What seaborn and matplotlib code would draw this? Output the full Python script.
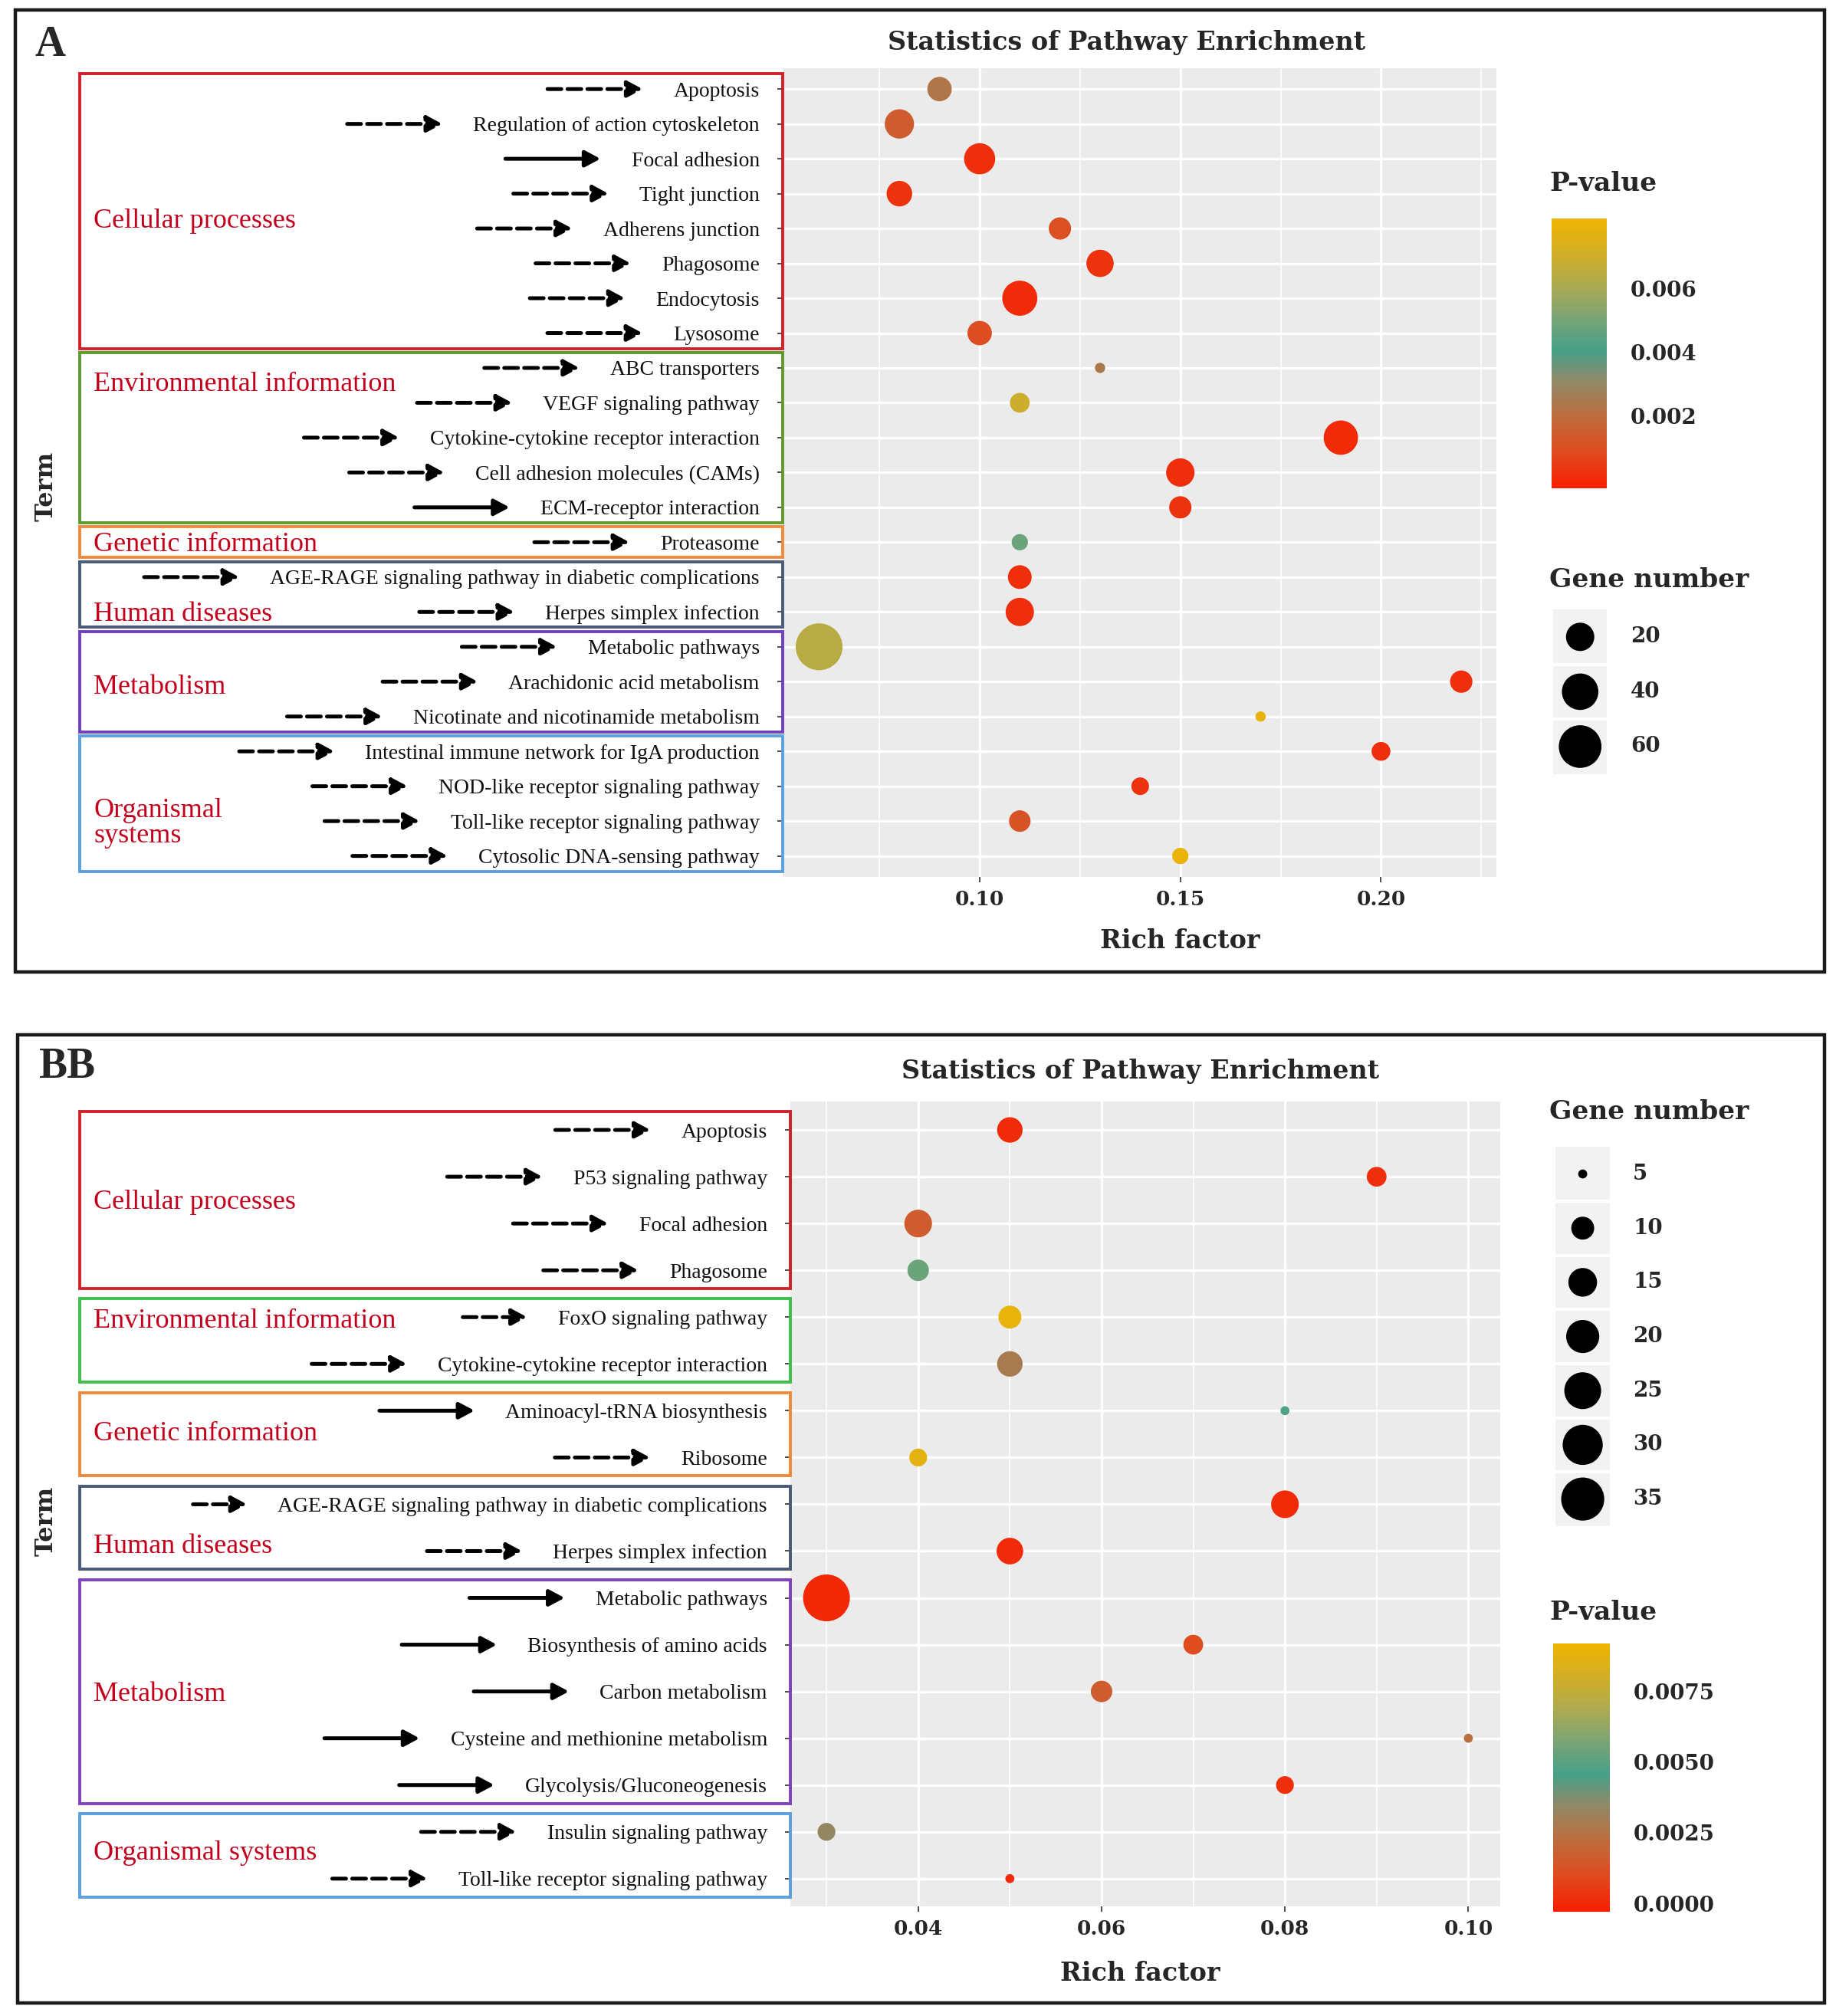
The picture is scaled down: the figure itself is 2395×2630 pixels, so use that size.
import numpy as np
import pandas as pd
import matplotlib
matplotlib.use("Agg")
import matplotlib.pyplot as plt
import seaborn as sns
from matplotlib import transforms
from matplotlib.cm import ScalarMappable
from matplotlib.colors import LinearSegmentedColormap, Normalize
from matplotlib.patches import Rectangle, FancyArrowPatch

# ---------------- panel A data ----------------
terms_a = ["Apoptosis", "Regulation of action cytoskeleton", "Focal adhesion", "Tight junction",
           "Adherens junction", "Phagosome", "Endocytosis", "Lysosome",
           "ABC transporters", "VEGF signaling pathway", "Cytokine-cytokine receptor interaction",
           "Cell adhesion molecules (CAMs)", "ECM-receptor interaction",
           "Proteasome",
           "AGE-RAGE signaling pathway in diabetic complications", "Herpes simplex infection",
           "Metabolic pathways", "Arachidonic acid metabolism", "Nicotinate and nicotinamide metabolism",
           "Intestinal immune network for IgA production", "NOD-like receptor signaling pathway",
           "Toll-like receptor signaling pathway", "Cytosolic DNA-sensing pathway"]
rich_a = [0.09, 0.08, 0.10, 0.08, 0.12, 0.13, 0.11, 0.10,
          0.13, 0.11, 0.19, 0.15, 0.15,
          0.11,
          0.11, 0.11,
          0.06, 0.22, 0.17,
          0.20, 0.14, 0.11, 0.15]
genes_a = [13, 22, 26, 15, 10, 18, 36, 13,
           2, 7, 34, 20, 10,
           4,
           12, 20,
           76, 10, 2,
           6, 5, 9, 4]
pval_a = [0.0023, 0.0014, 0.0001, 0.0002, 0.0010, 0.0002, 0.00005, 0.0009,
          0.0024, 0.0070, 0.00001, 0.0001, 0.0002,
          0.0048,
          0.0001, 0.0001,
          0.0064, 0.0001, 0.0079,
          0.0001, 0.0002, 0.0011, 0.0080]
solid_a = ["Focal adhesion", "ECM-receptor interaction"]
groups_a = ["Cellular processes", "Environmental information", "Genetic information",
            "Human diseases", "Metabolism", "Organismal\nsystems"]
group_sizes_a = [8, 5, 1, 2, 3, 4]

# ---------------- panel B data ----------------
terms_b = ["Apoptosis", "P53 signaling pathway", "Focal adhesion", "Phagosome",
           "FoxO signaling pathway", "Cytokine-cytokine receptor interaction",
           "Aminoacyl-tRNA biosynthesis", "Ribosome",
           "AGE-RAGE signaling pathway in diabetic complications", "Herpes simplex infection",
           "Metabolic pathways", "Biosynthesis of amino acids", "Carbon metabolism",
           "Cysteine and methionine metabolism", "Glycolysis/Gluconeogenesis",
           "Insulin signaling pathway", "Toll-like receptor signaling pathway"]
rich_b = [0.05, 0.09, 0.04, 0.04,
          0.05, 0.05,
          0.08, 0.04,
          0.08, 0.05,
          0.03, 0.07, 0.06, 0.10, 0.08,
          0.03, 0.05]
genes_b = [12, 8, 14, 9,
           10, 12,
           5, 7,
           14, 13,
           42, 8, 9, 5, 7,
           7, 5]
pval_b = [0.0001, 0.0002, 0.0016, 0.0054,
          0.0089, 0.0028,
          0.0048, 0.0087,
          0.00005, 0.0001,
          0.00001, 0.0010, 0.0016, 0.0023, 0.0002,
          0.0033, 0.0001]
solid_b = ["Aminoacyl-tRNA biosynthesis", "Metabolic pathways", "Biosynthesis of amino acids",
           "Carbon metabolism", "Cysteine and methionine metabolism", "Glycolysis/Gluconeogenesis"]
groups_b = ["Cellular processes", "Environmental information", "Genetic information",
            "Human diseases", "Metabolism", "Organismal systems"]
group_sizes_b = [4, 2, 2, 2, 5, 2]

legend_genes_a = [20, 40, 60]
legend_genes_b = [5, 10, 15, 20, 25, 30, 35]
cbar_ticks_a = [0.002, 0.004, 0.006]
cbar_ticks_b = [0.0, 0.0025, 0.005, 0.0075]

sns.set_style("darkgrid")
plt.rcParams["font.family"] = ["DejaVu Serif"]

fig = plt.figure(figsize=(2395 / 200, 2630 / 200), dpi=200)
# red -> teal -> gold, with the warm brown middle that the original gradient shows
cmap = LinearSegmentedColormap.from_list("pv", [
    (0.00, "#F81E00"), (0.13, "#E04A1E"), (0.27, "#BC6E3E"), (0.40, "#8E8A68"),
    (0.51, "#45A088"), (0.62, "#74A478"), (0.74, "#A8AA55"), (0.87, "#D0AE28"),
    (1.00, "#F0B400")])


# positions were measured on a 1428 x 1568 preview of the target
def fx(px):
    return px / 1428


def fy(py):
    return 1 - py / 1568


def dot_area(n, nmin, nmax, dmin, dmax):
    # ggplot-like area palette: diameter grows with sqrt of the rescaled value
    t = np.clip((np.asarray(n, float) - nmin) / (nmax - nmin), 0, 1)
    return (dmin + (dmax - dmin) * np.sqrt(t)) ** 2


def draw_panel(terms, rich, genes, pval, solid, groups, group_sizes, lay):
    ax = fig.add_axes(lay["ax"])
    df = pd.DataFrame({"rich": rich, "row": np.arange(len(terms)), "genes": genes, "p": pval})
    size_map = {g: float(dot_area(g, *lay["size_rng"])) for g in sorted(set(genes))}
    sns.scatterplot(data=df, x="rich", y="row", hue="p", palette=cmap, hue_norm=lay["norm"],
                    size="genes", sizes=size_map, legend=False, linewidth=0, ax=ax, zorder=3)

    ax.set_facecolor("#EBEBEB")
    ax.set_xlim(lay["xlim"])
    ax.set_ylim(len(terms) - 0.4, -0.6)
    ax.set_xticks(lay["xmajor"])
    ax.set_xticks(lay["xminor"], minor=True)
    ax.set_xticklabels([lay["xfmt"].format(v) for v in lay["xmajor"]],
                       fontweight="bold", fontsize=9.5)
    ax.set_yticks(range(len(terms)))
    ax.set_yticklabels(terms, fontfamily="Liberation Serif", fontsize=10, color="#111111")
    ax.grid(which="major", color="white", lw=1.2)
    ax.grid(which="minor", axis="x", color="white", lw=0.6)
    ax.grid(which="minor", axis="y", visible=False)
    ax.set_axisbelow(True)
    ax.tick_params(axis="y", which="major", length=2.5, width=0.7, color="#4D4D4D", pad=8.5, left=True)
    ax.tick_params(axis="x", which="major", length=2.5, width=0.7, color="#4D4D4D", pad=3.5, bottom=True)
    ax.tick_params(which="minor", length=0)
    for s in ax.spines.values():
        s.set_visible(False)
    ax.set_xlabel("")
    ax.set_ylabel("")

    # frame, titles
    x0, y0, x1, y1 = lay["frame"]
    fig.add_artist(Rectangle((fx(x0), fy(y1)), fx(x1) - fx(x0), fy(y0) - fy(y1),
                             transform=fig.transFigure, fill=False, lw=1.6, ec="#1A1A1A"))
    fig.text(fx(lay["letter"][0]), fy(lay["letter"][1]), lay["letter"][2], fontfamily="Liberation Serif",
             fontweight="bold", fontsize=20, ha="left", va="center")
    fig.text(fx(lay["title"][0]), fy(lay["title"][1]), "Statistics of Pathway Enrichment",
             fontweight="bold", fontsize=12, ha="center", va="center")
    fig.text(fx(lay["xlabel"][0]), fy(lay["xlabel"][1]), "Rich factor",
             fontweight="bold", fontsize=12, ha="center", va="center")
    fig.text(fx(36), fy(lay["term_y"]), "Term", rotation=90,
             fontweight="bold", fontsize=11.5, ha="center", va="center")

    # category boxes and names
    blend = transforms.blended_transform_factory(fig.transFigure, ax.transData)
    start = 0
    gap = lay["box_gap"]
    for name, cnt, col, crow in zip(groups, group_sizes, lay["box_colors"], lay["cat_rows"]):
        top = start - 0.5 + gap
        bot = start + cnt - 0.5 - gap
        fig.add_artist(Rectangle((fx(62), top), lay["ax"][0] - fx(62), bot - top, transform=blend,
                                 fill=False, ec=col, lw=1.4, clip_on=False))
        fig.text(fx(73), crow, name, transform=blend, fontfamily="Liberation Serif", fontsize=13,
                 color="#C3001C", ha="left", va="center", linespacing=1.0)
        start += cnt

    # colour bar
    cax = fig.add_axes(lay["cbar"])
    cb = fig.colorbar(ScalarMappable(norm=lay["norm"], cmap=cmap), cax=cax, ticks=lay["cticks"])
    cb.outline.set_visible(False)
    cax.grid(False)
    cax.set_yticklabels([lay["cfmt"].format(t) for t in lay["cticks"]], fontweight="bold", fontsize=10)
    cax.tick_params(axis="y", direction="in", length=5, width=1, color="white",
                    left=True, right=True, labelleft=False, labelright=True, pad=11)

    # size legend
    lax = fig.add_axes(lay["slegend"])
    vals = lay["svals"]
    lax.scatter(np.zeros(len(vals)), np.arange(len(vals)), s=dot_area(vals, *lay["size_rng"]),
                color="black", linewidth=0)
    lax.set_xlim(-0.5, 0.5)
    lax.set_ylim(len(vals) - 0.5, -0.5)
    lax.set_facecolor("#F2F2F2")
    lax.grid(False)
    lax.set_xticks([])
    lax.set_yticks([])
    for s in lax.spines.values():
        s.set_visible(False)
    for i in range(len(vals) - 1):
        lax.axhline(i + 0.5, color="white", lw=1.5)
    lblend = transforms.blended_transform_factory(lax.transAxes, lax.transData)
    for i, v in enumerate(vals):
        lax.text(1.43, i, str(v), transform=lblend, fontweight="bold", fontsize=10,
                 ha="left", va="center")
    for (tx, ty, txt) in lay["legend_titles"]:
        fig.text(fx(tx), fy(ty), txt, fontweight="bold", fontsize=12.4, ha="left", va="center")

    return ax


lay_a = dict(
    ax=[fx(609), fy(682), fx(1164) - fx(609), fy(53) - fy(682)],
    frame=(12, 8, 1419, 756), letter=(27, 35, "A"), title=(876, 33), xlabel=(918, 732), term_y=378,
    xlim=(0.051, 0.2288), xmajor=[0.10, 0.15, 0.20], xminor=[0.075, 0.125, 0.175, 0.225], xfmt="{:.2f}",
    norm=Normalize(-0.0003, 0.0082), size_rng=(2, 76, 4.83, 22.0),
    box_colors=["#D0202A", "#5E9A2E", "#F08A3A", "#4A5A78", "#7040C0", "#5AA0E0"],
    cat_rows=[3.78, 8.48, 13.07, 15.07, 17.15, 21.07], box_gap=0.06,
    cbar=[fx(1207), fy(380), fx(1250) - fx(1207), fy(170) - fy(380)], cticks=cbar_ticks_a, cfmt="{:.3f}",
    slegend=[fx(1208), fy(602), fx(1250) - fx(1208), fy(474) - fy(602)], svals=legend_genes_a,
    legend_titles=[(1205, 143, "P-value"), (1205, 451, "Gene number")],
    short_arrows={},
)
lay_b = dict(
    ax=[fx(615), fy(1483), fx(1167) - fx(615), fy(857) - fy(1483)],
    frame=(14, 805, 1419, 1558), letter=(30, 830, "BB"), title=(887, 833), xlabel=(887, 1535), term_y=1183,
    xlim=(0.0261, 0.1035), xmajor=[0.04, 0.06, 0.08, 0.10], xminor=[0.03, 0.05, 0.07, 0.09], xfmt="{:.2f}",
    norm=Normalize(-0.0003, 0.0092), size_rng=(5, 42, 4.23, 22.0),
    box_colors=["#D0202A", "#3CC04A", "#F08A3A", "#4A5A78", "#8040C0", "#5AA0E0"],
    cat_rows=[1.54, 4.08, 6.5, 8.9, 12.07, 15.45], box_gap=0.11,
    cbar=[fx(1208), fy(1487), fx(1252) - fx(1208), fy(1278) - fy(1487)], cticks=cbar_ticks_b, cfmt="{:.4f}",
    slegend=[fx(1210), fy(1187), fx(1252) - fx(1210), fy(892) - fy(1187)], svals=legend_genes_b,
    legend_titles=[(1205, 865, "Gene number"), (1205, 1254, "P-value")],
    short_arrows={"FoxO signaling pathway": 50,
                  "AGE-RAGE signaling pathway in diabetic complications": 42},
)

ax_a = draw_panel(terms_a, rich_a, genes_a, pval_a, solid_a, groups_a, group_sizes_a, lay_a)
ax_b = draw_panel(terms_b, rich_b, genes_b, pval_b, solid_b, groups_b, group_sizes_b, lay_b)

# arrows pointing at each term label (need rendered label extents)
fig.canvas.draw()
renderer = fig.canvas.get_renderer()
inv = fig.transFigure.inverted()
px = 2395 / 1428  # preview px -> output px
for ax, terms, solid, lay in [(ax_a, terms_a, solid_a, lay_a), (ax_b, terms_b, solid_b, lay_b)]:
    for i, lab in enumerate(ax.get_yticklabels()):
        bb = lab.get_window_extent(renderer)
        yd = ax.transData.transform((0, i))[1]
        tip = bb.x0 - 24 * px
        length = lay["short_arrows"].get(terms[i], 74) * px
        (xs, ys) = inv.transform((tip - length, yd))
        (xe, _) = inv.transform((tip, yd))
        style = "-" if terms[i] in solid else (0, (3.6, 1.6))
        fig.add_artist(FancyArrowPatch((xs, ys), (xe, ys), transform=fig.transFigure,
                                       arrowstyle="-|>,head_length=0.6,head_width=0.32",
                                       mutation_scale=10, lw=1.8, color="black",
                                       linestyle=style, shrinkA=0, shrinkB=0))

fig.savefig("out.png", dpi=200, facecolor="white")
